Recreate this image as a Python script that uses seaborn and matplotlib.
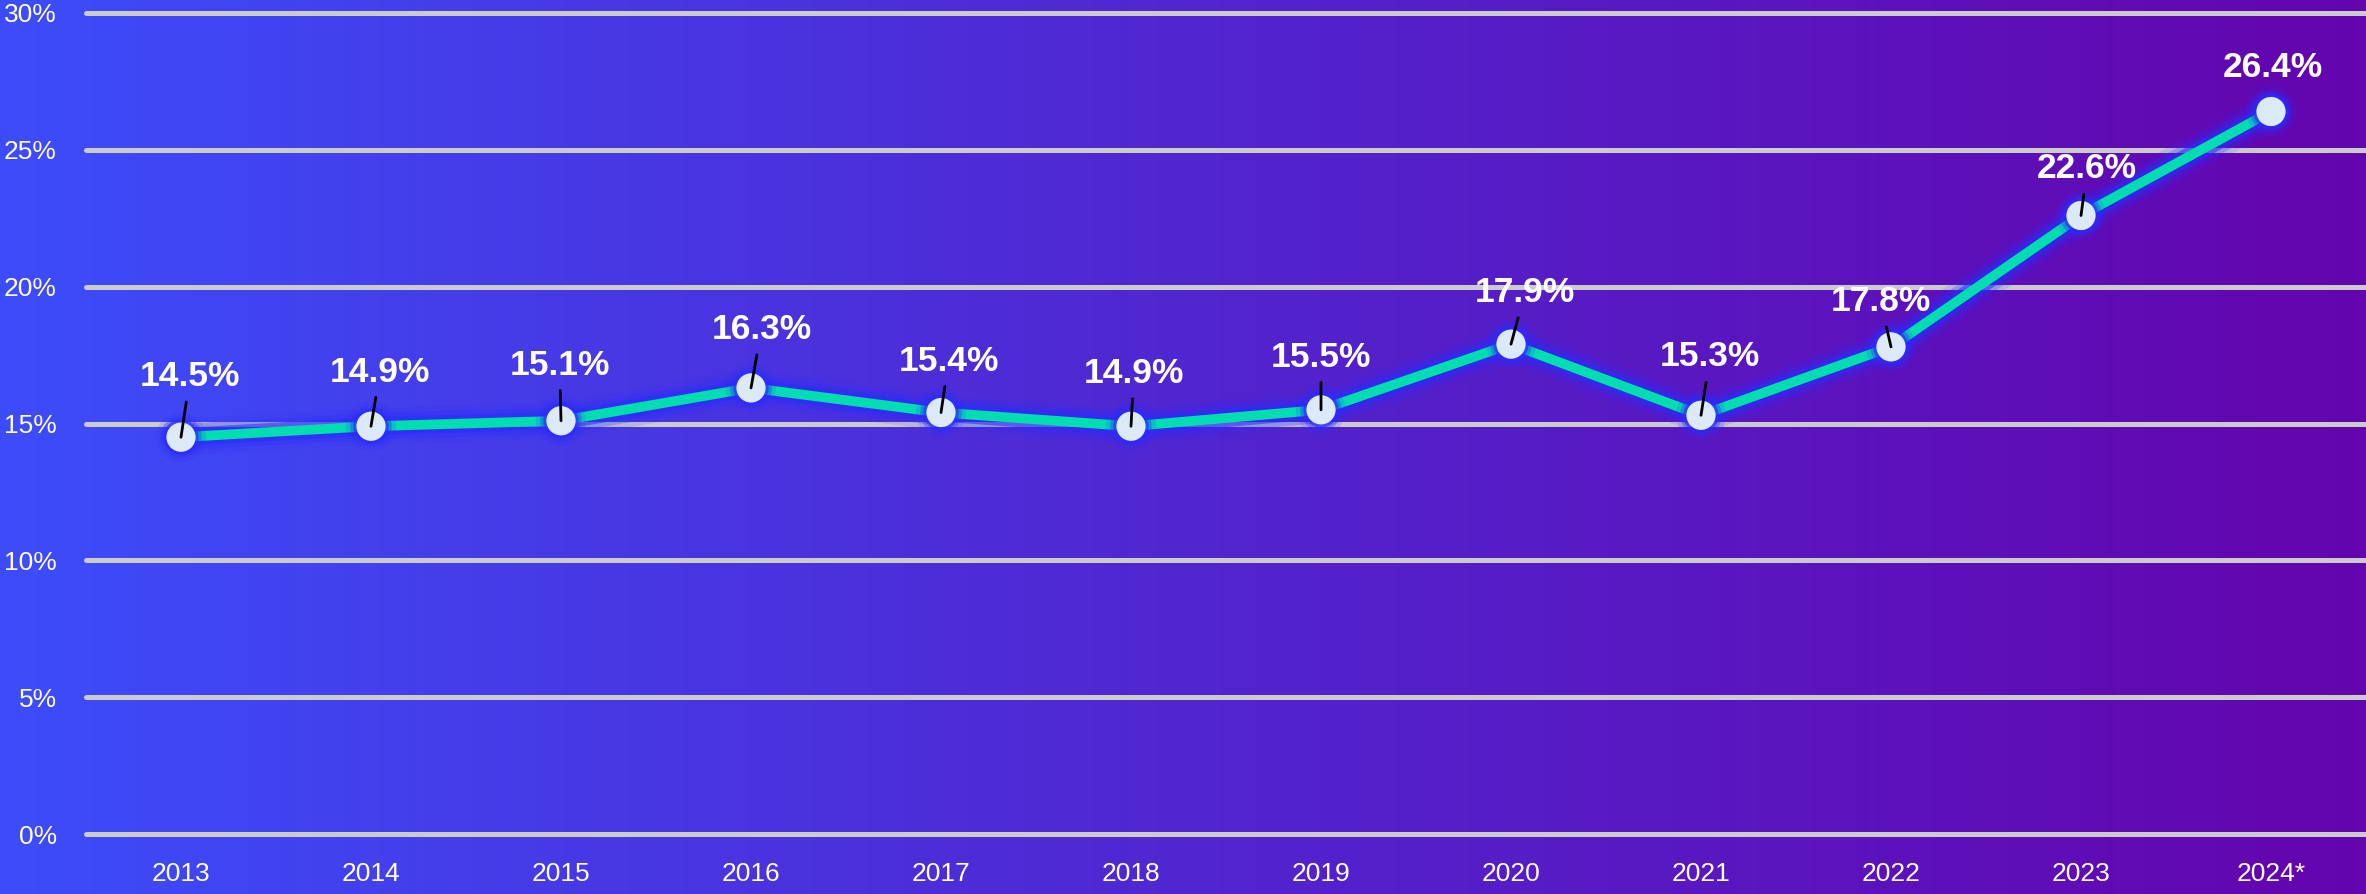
import numpy as np
import pandas as pd
import seaborn as sns
import matplotlib.pyplot as plt
import matplotlib.patheffects as pe
from matplotlib.colors import LinearSegmentedColormap

# Data
years = ['2013', '2014', '2015', '2016', '2017', '2018', '2019', '2020', '2021', '2022', '2023', '2024*']
share = [14.5, 14.9, 15.1, 16.3, 15.4, 14.9, 15.5, 17.9, 15.3, 17.8, 22.6, 26.4]
y_ticks = [0, 5, 10, 15, 20, 25, 30]

df = pd.DataFrame({'year': years, 'share': share})
df['pos'] = range(len(df))

# label offsets (points) relative to each marker, and whether a leader is drawn
label_dx = [6.5, 6.5, -1, 7.5, 5.5, 2, 0, 10, 6.5, -7.5, 4.5, 1]
label_dy = [43.5, 39, 40, 42, 37, 38, 38, 37, 42, 32.5, 33.5, 31.5]
leader = [True] * 11 + [False]

sns.set_theme(style='white')
plt.rcParams['font.family'] = ['Liberation Sans', 'DejaVu Sans']

fig = plt.figure(figsize=(23.66, 8.94), dpi=100)

# gradient background
bg = fig.add_axes([0, 0, 1, 1], zorder=0)
cmap = LinearSegmentedColormap.from_list('bg', ['#3d4cfa', '#5126d0', '#6405ae'])
bg.imshow(np.linspace(0, 1, 512).reshape(1, -1), aspect='auto', cmap=cmap, extent=[0, 1, 0, 1])
bg.axis('off')

ax = fig.add_axes([86 / 2366, 60 / 894, 1 - 86 / 2366, 821 / 894], zorder=1)
ax.patch.set_alpha(0)

glow = '#2a2cff'
line_fx = [pe.Stroke(linewidth=26, foreground=glow, alpha=0.12),
           pe.Stroke(linewidth=19, foreground=glow, alpha=0.25),
           pe.Stroke(linewidth=13, foreground=glow, alpha=0.55),
           pe.Normal()]
sns.lineplot(data=df, x='pos', y='share', ax=ax, color='#00deb0', linewidth=7, zorder=3)
ax.lines[-1].set_path_effects(line_fx)
ax.lines[-1].set_solid_capstyle('round')

mk_fx = [pe.Stroke(linewidth=15, foreground=glow, alpha=0.15),
         pe.Stroke(linewidth=9, foreground=glow, alpha=0.35),
         pe.Stroke(linewidth=4.5, foreground=glow, alpha=0.65),
         pe.Normal()]
sns.scatterplot(data=df, x='pos', y='share', ax=ax, s=440, color='#dce9f7',
                edgecolor='none', zorder=4, legend=False)
ax.collections[-1].set_path_effects(mk_fx)
ax.collections[-1].set_clip_on(False)

for i, row in df.iterrows():
    arrow = dict(arrowstyle='-', color='black', lw=2, shrinkA=4, shrinkB=0) if leader[i] else None
    ax.annotate(f"{row['share']:.1f}%", xy=(row['pos'], row['share']),
                xytext=(label_dx[i], label_dy[i]), textcoords='offset points',
                ha='center', va='center', fontsize=25.5, fontweight='bold', color='white',
                arrowprops=arrow, zorder=6, annotation_clip=False)

ax.set_xlim(-0.5, len(years) - 0.5)
ax.set_ylim(0, 30)
ax.set_xticks(df['pos'])
ax.set_xticklabels(years)
ax.set_yticks(y_ticks)
ax.set_yticklabels([f'{t}%' for t in y_ticks])
ax.set_xlabel('')
ax.set_ylabel('')
ax.tick_params(axis='both', length=0, colors='white', labelsize=19)
ax.tick_params(axis='y', pad=21)
ax.tick_params(axis='x', pad=20)
ax.grid(axis='y', color='#cbcbcb', linewidth=3.6, zorder=1)
ax.grid(axis='x', visible=False)
ax.set_axisbelow(True)
sns.despine(ax=ax, left=True, bottom=True, top=True, right=True)
for gl in ax.get_ygridlines():
    gl.set_clip_on(False)

fig.savefig('out.png', dpi=100)
